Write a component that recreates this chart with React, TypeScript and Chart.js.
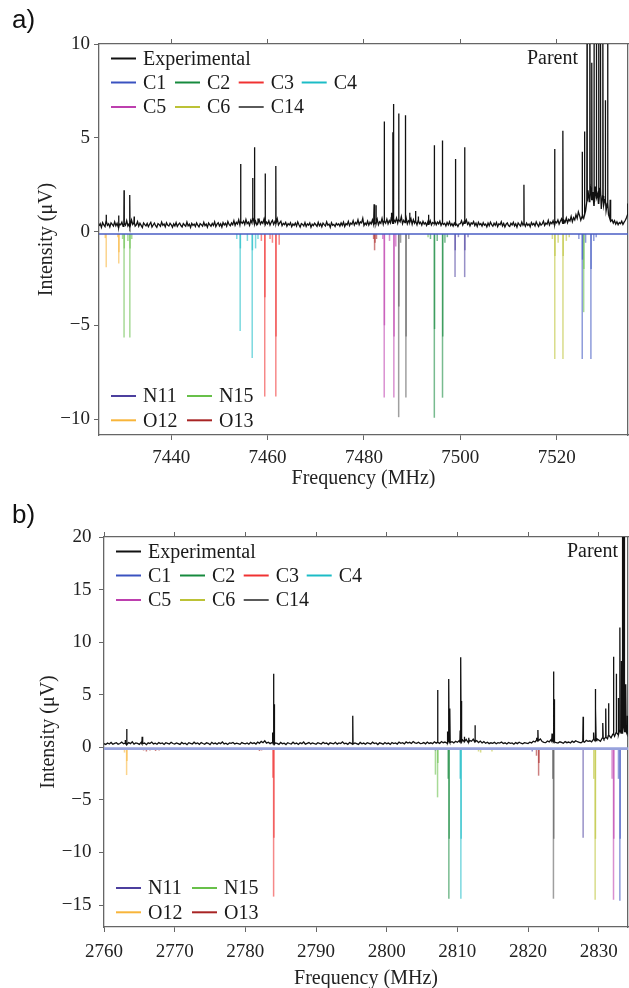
import React, { useEffect, useRef } from "react";
import { Chart, registerables } from "chart.js";

Chart.register(...registerables);

const SERIF = "'Liberation Serif', 'Times New Roman', serif";
const SANS = "'Liberation Sans', Arial, sans-serif";

// ---------------- Panel a data ----------------
const xRangeA = [7425, 7534.8];
const yRangeA = [-10.85, 10];
const xStepA = 20;
const noiseStartA = 7425;
const noiseStepA = 0.25;
const expNoiseA = [
  0.30, 0.42, 0.22, 0.48, 0.35, 0.26, 0.55, 0.33, 0.41, 0.24,
  0.46, 0.38, 0.29, 0.52, 0.31, 0.44, 0.23, 0.40, 0.36, 0.50,
  0.27, 0.45, 0.34, 0.58, 0.30, 0.41, 0.25, 0.62, 0.38, 0.47,
  0.29, 0.36, 0.53, 0.28, 0.44, 0.33, 0.21, 0.46, 0.37, 0.30,
  0.43, 0.26, 0.39, 0.49, 0.24, 0.35, 0.45, 0.31, 0.22, 0.42,
  0.37, 0.28, 0.50, 0.33, 0.40, 0.25, 0.47, 0.34, 0.29, 0.44,
  0.36, 0.23, 0.41, 0.30, 0.48, 0.27, 0.38, 0.45, 0.32, 0.24,
  0.43, 0.35, 0.28, 0.51, 0.30, 0.39, 0.22, 0.44, 0.33, 0.40,
  0.27, 0.46, 0.34, 0.25, 0.42, 0.37, 0.29, 0.49, 0.31, 0.40,
  0.23, 0.45, 0.36, 0.28, 0.43, 0.32, 0.52, 0.26, 0.39, 0.47,
  0.30, 0.41, 0.24, 0.48, 0.35, 0.44, 0.28, 0.53, 0.38, 0.31,
  0.46, 0.36, 0.58, 0.33, 0.49, 0.40, 0.62, 0.35, 0.51, 0.44,
  0.56, 0.38, 0.64, 0.42, 0.50, 0.33, 0.60, 0.45, 0.70, 0.40,
  0.55, 0.36, 0.48, 0.62, 0.39, 0.52, 0.44, 0.66, 0.37, 0.50,
  0.41, 0.57, 0.34, 0.49, 0.60, 0.38, 0.53, 0.43, 0.68, 0.35,
  0.46, 0.55, 0.31, 0.44, 0.37, 0.49, 0.28, 0.42, 0.35, 0.47,
  0.26, 0.40, 0.33, 0.45, 0.29, 0.51, 0.36, 0.24, 0.43, 0.38,
  0.30, 0.48, 0.27, 0.41, 0.34, 0.46, 0.23, 0.39, 0.32, 0.44,
  0.36, 0.28, 0.49, 0.31, 0.42, 0.25, 0.45, 0.37, 0.30, 0.52,
  0.34, 0.40, 0.22, 0.47, 0.33, 0.38, 0.27, 0.44, 0.35, 0.41,
  0.29, 0.46, 0.33, 0.50, 0.27, 0.42, 0.36, 0.54, 0.31, 0.45,
  0.39, 0.58, 0.34, 0.48, 0.41, 0.63, 0.37, 0.52, 0.46, 0.70,
  0.32, 0.45, 0.36, 0.55, 0.34, 0.50, 0.40, 0.62, 0.38, 0.48,
  0.42, 0.65, 0.36, 0.52, 0.44, 0.70, 0.39, 0.56, 0.45, 0.66,
  0.41, 0.58, 0.46, 0.75, 0.43, 0.62, 0.50, 0.72, 0.45, 0.64,
  0.52, 0.80, 0.42, 0.60, 0.48, 0.74, 0.41, 0.57, 0.50, 0.68,
  0.39, 0.63, 0.45, 0.55, 0.36, 0.60, 0.42, 0.50, 0.34, 0.54,
  0.40, 0.47, 0.32, 0.51, 0.38, 0.58, 0.35, 0.48, 0.43, 0.52,
  0.36, 0.50, 0.41, 0.55, 0.33, 0.47, 0.38, 0.44, 0.30, 0.48,
  0.35, 0.52, 0.32, 0.42, 0.29, 0.45, 0.34, 0.39, 0.27, 0.41,
  0.42, 0.58, 0.35, 0.50, 0.44, 0.62, 0.38, 0.48, 0.30, 0.46,
  0.40, 0.53, 0.32, 0.45, 0.27, 0.49, 0.36, 0.42, 0.29, 0.47,
  0.34, 0.40, 0.25, 0.45, 0.31, 0.50, 0.37, 0.28, 0.44, 0.33,
  0.48, 0.26, 0.41, 0.36, 0.52, 0.30, 0.43, 0.24, 0.39, 0.46,
  0.32, 0.27, 0.44, 0.35, 0.49, 0.30, 0.41, 0.23, 0.46, 0.37,
  0.29, 0.51, 0.34, 0.42, 0.28, 0.45, 0.33, 0.40, 0.25, 0.48,
  0.36, 0.43, 0.30, 0.52, 0.38, 0.27, 0.47, 0.34, 0.41, 0.55,
  0.32, 0.45, 0.39, 0.60, 0.35, 0.50, 0.42, 0.58, 0.37, 0.53,
  0.46, 0.62, 0.40, 0.55, 0.68, 0.44, 0.60, 0.50, 0.72, 0.47,
  0.65, 0.56, 0.80, 0.52, 0.74, 0.62, 0.90, 0.70, 1.05, 0.85,
  0.60, 0.80, 0.70, 0.90, 1.10, 1.60, 2.20, 1.60, 2.50, 1.70,
  2.10, 1.40, 2.40, 1.80, 2.00, 1.50, 2.30, 1.20, 1.90, 1.40,
  1.70, 1.10, 1.50, 0.90, 0.70, 0.55, 0.62, 0.45, 0.58, 0.40,
  0.52, 0.36, 0.48, 0.42, 0.55, 0.38, 0.50, 0.60, 0.75, 0.90,
  1.20,
];
const expPeaksA: [number, number][] = [
  [7426.5, 0.9], [7429.1, 0.85], [7430.2, 2.2], [7431.4, 1.95], [7432.3, 0.8],
  [7454.4, 3.6], [7456.9, 2.85], [7457.3, 4.5], [7458.0, 0.7], [7459.5, 3.1], [7461.7, 3.5],
  [7482.1, 1.45], [7482.5, 1.4], [7484.2, 5.87], [7485.7, 1.0], [7486.0, 5.3], [7486.15, 6.8],
  [7487.2, 6.3], [7488.6, 6.2], [7489.5, 1.0], [7490.7, 1.1], [7491.3, 0.8],
  [7493.4, 0.9], [7494.6, 4.6], [7496.3, 4.85], [7499.0, 3.87], [7500.9, 4.5],
  [7513.2, 2.5], [7519.6, 4.4], [7521.3, 5.37], [7525.3, 4.25], [7525.8, 5.34],
  [7526.3, 11], [7526.9, 14], [7527.3, 9], [7527.75, 13], [7528.25, 15], [7528.7, 12],
  [7529.1, 14], [7529.6, 11], [7530.1, 7], [7530.6, 12], [7531.1, 1.7], [7534.75, 1.5],
];
const simBaselineA = -0.13;
const c1A: [number, number][] = [[7524.6, -0.4], [7525.3, -6.8], [7525.35, -1.5], [7526.0, -0.6], [7527.1, -6.8], [7527.15, -2.0], [7527.7, -0.5], [7528.2, -0.3]];
const c2A: [number, number][] = [[7493.8, -0.4], [7494.6, -9.93], [7494.65, -5.2], [7495.2, -0.5], [7496.3, -8.86], [7496.35, -5.6], [7496.8, -0.6], [7497.3, -0.3]];
const c3A: [number, number][] = [[7458.7, -0.5], [7459.4, -8.8], [7459.45, -3.5], [7460.5, -0.4], [7461.0, -0.6], [7461.7, -8.8], [7461.75, -5.6], [7462.4, -0.7]];
const c4A: [number, number][] = [[7453.6, -0.4], [7454.3, -5.3], [7454.35, -0.9], [7455.8, -0.5], [7456.8, -6.75], [7456.85, -1.0], [7457.5, -0.9], [7458.0, -0.4]];
const c5A: [number, number][] = [[7483.9, -0.4], [7484.2, -8.85], [7484.25, -5.0], [7485.3, -0.5], [7486.2, -8.85], [7486.25, -5.6], [7486.6, -0.8]];
const c6A: [number, number][] = [[7519.1, -0.4], [7519.6, -6.8], [7519.65, -1.3], [7520.3, -0.6], [7521.3, -6.8], [7521.35, -1.3], [7522.0, -0.5], [7522.6, -0.3]];
const c14A: [number, number][] = [[7487.2, -9.9], [7487.25, -4.0], [7487.6, -0.6], [7488.7, -8.85], [7488.75, -5.6], [7489.3, -0.4]];
const n11A: [number, number][] = [[7498.9, -2.43], [7498.95, -1.0], [7499.6, -0.3], [7500.9, -2.43], [7500.95, -1.0], [7501.6, -0.3]];
const n15A: [number, number][] = [[7429.9, -0.4], [7430.2, -5.65], [7430.25, -0.9], [7431.0, -0.5], [7431.4, -5.65], [7431.45, -0.9], [7431.8, -0.4], [7493.3, -0.3], [7525.6, -4.3], [7525.65, -2.0]];
const o12A: [number, number][] = [[7426.3, -0.35], [7426.5, -1.9], [7428.9, -0.3], [7429.1, -1.7], [7429.15, -1.1]];
const o13A: [number, number][] = [[7482.0, -0.4], [7482.2, -1.0], [7482.3, -0.6], [7482.6, -0.4]];

// ---------------- Panel b data ----------------
const xRangeB = [2760, 2834.15];
const yRangeB = [-17.09, 20];
const xStepB = 10;
const noiseStartB = 2760;
const noiseStepB = 0.25;
const expNoiseB = [
  0.34, 0.27, 0.41, 0.31, 0.46, 0.29, 0.38, 0.44, 0.30, 0.36,
  0.49, 0.33, 0.40, 0.26, 0.45, 0.35, 0.52, 0.31, 0.42, 0.37,
  0.28, 0.47, 0.34, 0.40, 0.25, 0.43, 0.36, 0.50, 0.32, 0.39,
  0.29, 0.45, 0.35, 0.41, 0.27, 0.44, 0.38, 0.31, 0.48, 0.36,
  0.30, 0.42, 0.35, 0.27, 0.46, 0.33, 0.39, 0.25, 0.44, 0.37,
  0.31, 0.48, 0.34, 0.41, 0.28, 0.45, 0.36, 0.30, 0.43, 0.38,
  0.26, 0.47, 0.33, 0.40, 0.29, 0.44, 0.35, 0.51, 0.32, 0.39,
  0.27, 0.42, 0.37, 0.46, 0.31, 0.40, 0.34, 0.28, 0.45, 0.38,
  0.33, 0.41, 0.29, 0.47, 0.36, 0.43, 0.31, 0.50, 0.38, 0.56,
  0.44, 0.62, 0.40, 0.48, 0.35, 0.45, 0.30, 0.42, 0.37, 0.28,
  0.46, 0.34, 0.39, 0.26, 0.44, 0.36, 0.31, 0.48, 0.33, 0.40,
  0.27, 0.43, 0.35, 0.50, 0.30, 0.38, 0.45, 0.32, 0.41, 0.36,
  0.29, 0.44, 0.37, 0.31, 0.48, 0.35, 0.40, 0.26, 0.43, 0.38,
  0.33, 0.47, 0.30, 0.41, 0.36, 0.52, 0.34, 0.39, 0.28, 0.45,
  0.37, 0.31, 0.42, 0.35, 0.27, 0.46, 0.33, 0.40, 0.29, 0.44,
  0.38, 0.32, 0.49, 0.35, 0.41, 0.26, 0.43, 0.37, 0.30, 0.45,
  0.34, 0.40, 0.28, 0.46, 0.36, 0.42, 0.31, 0.49, 0.38, 0.44,
  0.33, 0.51, 0.40, 0.47, 0.36, 0.55, 0.42, 0.38, 0.48, 0.35,
  0.38, 0.45, 0.33, 0.50, 0.37, 0.43, 0.35, 0.52, 0.40, 0.47,
  0.37, 0.55, 0.44, 0.50, 0.41, 0.60, 0.46, 0.53, 0.42, 0.58,
  0.48, 0.62, 0.51, 0.70, 0.54, 0.75, 0.49, 0.65, 0.57, 0.78,
  0.52, 0.64, 0.45, 0.59, 0.41, 0.54, 0.38, 0.48, 0.35, 0.43,
  0.38, 0.47, 0.34, 0.44, 0.40, 0.50, 0.36, 0.43, 0.31, 0.46,
  0.37, 0.41, 0.29, 0.45, 0.35, 0.48, 0.39, 0.33, 0.44, 0.40,
  0.36, 0.48, 0.42, 0.58, 0.50, 0.66, 0.62, 0.80, 0.55, 0.47,
  0.44, 0.60, 0.52, 0.72, 0.58, 0.50, 0.45, 0.40, 0.52, 0.46,
  0.38, 0.54, 0.44, 0.50, 0.41, 0.58, 0.47, 0.62, 0.53, 0.48,
  0.43, 0.55, 0.49, 0.66, 0.57, 0.62, 0.52, 0.75, 0.64, 0.82,
  0.70, 0.58, 0.88, 0.76, 0.95, 0.82, 1.10, 0.90, 1.25, 1.05,
  1.40, 1.20, 1.60, 1.35, 1.80, 1.50, 1.30,
];
const expPeaksB: [number, number][] = [
  [2763.0, 0.7], [2763.2, 1.74], [2765.4, 1.0], [2783.85, 1.4], [2784.0, 7.0], [2784.1, 4.1], [2795.2, 3.0],
  [2807.2, 5.45], [2808.6, 1.5], [2808.8, 6.5], [2808.95, 3.7], [2810.4, 1.6], [2810.5, 8.57], [2810.6, 4.4],
  [2811.0, 1.0], [2811.6, 0.9], [2812.5, 2.1], [2821.2, 0.9], [2821.4, 1.65], [2823.4, 1.3], [2823.6, 7.2],
  [2823.7, 4.57], [2827.8, 2.9], [2829.3, 1.4], [2829.5, 5.55], [2829.6, 3.7], [2830.6, 2.3], [2831.0, 3.7],
  [2831.4, 4.2], [2832.1, 8.6], [2832.5, 7.0], [2832.8, 4.7], [2833.0, 11.4], [2833.2, 8.2],
  [2833.35, 25], [2833.45, 25], [2833.55, 25], [2833.65, 25], [2833.85, 6.0], [2834.05, 3.0],
];
const simBaselineB = -0.13;
const c1B: [number, number][] = [[2832.8, -3.0], [2833.0, -14.6], [2833.05, -8.7]];
const c2B: [number, number][] = [[2808.7, -3.0], [2808.8, -14.4], [2808.85, -8.7]];
const c3B: [number, number][] = [[2783.9, -2.9], [2784.0, -14.2], [2784.05, -8.6]];
const c4B: [number, number][] = [[2810.4, -3.0], [2810.5, -14.4], [2810.55, -8.7]];
const c5B: [number, number][] = [[2831.9, -3.0], [2832.1, -14.5], [2832.15, -8.7]];
const c6B: [number, number][] = [[2813.0, -0.4], [2813.3, -0.5], [2814.9, -0.4], [2829.3, -3.0], [2829.5, -14.5], [2829.55, -8.7]];
const c14B: [number, number][] = [[2823.5, -3.0], [2823.6, -14.4], [2823.65, -8.7]];
const n11B: [number, number][] = [[2806.9, -0.3], [2820.6, -0.4], [2827.8, -8.6]];
const n15B: [number, number][] = [[2806.9, -2.6], [2807.2, -4.76], [2807.25, -1.5]];
const o12B: [number, number][] = [[2762.9, -0.5], [2763.2, -2.64], [2763.25, -1.3]];
const o13B: [number, number][] = [[2765.6, -0.3], [2766.0, -0.4], [2766.5, -0.3], [2767.3, -0.35], [2767.8, -0.3], [2782.0, -0.35], [2782.3, -0.3], [2821.2, -0.8], [2821.5, -2.7], [2821.55, -1.5]];

// ---------------- legend / styling ----------------
const speciesNames = ["C1", "C2", "C3", "C4", "C5", "C6", "C14", "N11", "N15", "O12", "O13"];
const speciesColors: Record<string, string> = {
  Experimental: "#111111",
  C1: "#3a52c0",
  C2: "#178a3e",
  C3: "#f03232",
  C4: "#1cbcc6",
  C5: "#bd3fae",
  C6: "#bcc236",
  C14: "#5a5a5a",
  N11: "#4c3f9e",
  N15: "#68c04a",
  O12: "#f8b53a",
  O13: "#a82424",
};
const legendTopRows = [["Experimental"], ["C1", "C2", "C3", "C4"], ["C5", "C6", "C14"]];
const legendBottomRows = [["N11", "N15"], ["O12", "O13"]];

const simsA = [c1A, c2A, c3A, c4A, c5A, c6A, c14A, n11A, n15A, o12A, o13A];
const simsB = [c1B, c2B, c3B, c4B, c5B, c6B, c14B, n11B, n15B, o12B, o13B];

function buildTrace(start: number, step: number, noise: number[], peaks: [number, number][]) {
  const pts = noise.map((y, i) => ({ x: start + i * step, y }));
  peaks.forEach(([f, h]) => {
    const idx = Math.min(noise.length - 1, Math.max(0, Math.round((f - start) / step)));
    const b = noise[idx];
    pts.push({ x: f - 0.04, y: b }, { x: f, y: h }, { x: f + 0.04, y: b });
  });
  pts.sort((a, b) => a.x - b.x);
  return pts;
}

const minus = (v: any) => String(v).replace("-", "\u2212");

type Panel = {
  xRange: number[];
  yRange: number[];
  xStep: number;
  noiseStart: number;
  noiseStep: number;
  noise: number[];
  peaks: [number, number][];
  sims: [number, number][][];
  baseline: number;
  baselineColor: string;
  baselineWidth: number;
  L: {
    padTop: number;
    yW: number;
    xH: number;
    yTickPad: number;
    xTickPad: number;
    xTitlePad: number;
    yTitlePad: number;
    parentRight: number;
  };
};

const overlayPlugin = {
  id: "overlay",
  afterDraw(chart: any, _args: any, opts: any) {
    const { ctx, chartArea: ca } = chart;
    ctx.save();
    ctx.font = `20px ${SERIF}`;
    ctx.textBaseline = "middle";
    const drawEntry = (x: number, y: number, name: string) => {
      ctx.strokeStyle = speciesColors[name];
      ctx.lineWidth = 2;
      ctx.beginPath();
      ctx.moveTo(x, y);
      ctx.lineTo(x + 25, y);
      ctx.stroke();
      ctx.fillStyle = "#1a1a1a";
      ctx.textAlign = "left";
      ctx.fillText(name, x + 32, y + 1);
    };
    const topCols = [12, 76, 139.7, 202.7];
    const topRows = [14.5, 38.5, 63];
    legendTopRows.forEach((row, r) =>
      row.forEach((name, c) => drawEntry(ca.left + topCols[c], ca.top + topRows[r], name))
    );
    const botCols = [12, 88];
    const botRows = [-39, -14.7];
    legendBottomRows.forEach((row, r) =>
      row.forEach((name, c) => drawEntry(ca.left + botCols[c], ca.bottom + botRows[r], name))
    );
    ctx.fillStyle = "#1a1a1a";
    ctx.textAlign = "right";
    ctx.fillText("Parent", ca.right - opts.parentRight, ca.top + 15);
    ctx.restore();
  },
};

function PanelChart({ p, top }: { p: Panel; top: number }) {
  const ref = useRef<HTMLCanvasElement>(null);
  useEffect(() => {
    if (!ref.current) return;
    const axisColor = "#666666";
    const tickFont = { family: SERIF, size: 19 };
    const datasets: any[] = [
      {
        type: "line",
        label: "Experimental",
        data: buildTrace(p.noiseStart, p.noiseStep, p.noise, p.peaks),
        borderColor: "#111111",
        borderWidth: 1.3,
        pointRadius: 0,
        tension: 0,
        clip: 0,
        xAxisID: "x",
        yAxisID: "y",
      },
      {
        type: "line",
        label: "baseline",
        data: [
          { x: p.xRange[0], y: p.baseline },
          { x: p.xRange[1], y: p.baseline },
        ],
        borderColor: p.baselineColor,
        borderWidth: p.baselineWidth,
        pointRadius: 0,
        xAxisID: "x",
        yAxisID: "y",
      },
    ];
    p.sims.forEach((arr, i) => {
      const name = speciesNames[i];
      datasets.push({
        type: "bar",
        label: name,
        data: arr.map(([f, h]) => ({ x: f, y: h })),
        base: p.baseline,
        backgroundColor: speciesColors[name] + "94",
        borderWidth: 0,
        barThickness: 1.5,
        inflateAmount: 0,
        grouped: false,
        xAxisID: "x",
        yAxisID: "y",
      });
    });
    const chart = new Chart(ref.current, {
      type: "line",
      data: { datasets },
      plugins: [overlayPlugin],
      options: {
        animation: false,
        responsive: false,
        events: [],
        layout: { padding: { top: p.L.padTop, right: 1, left: 0, bottom: 0 } },
        plugins: {
          legend: { display: false },
          tooltip: { enabled: false },
          overlay: { parentRight: p.L.parentRight },
        } as any,
        scales: {
          x: {
            type: "linear",
            axis: "x",
            position: "bottom",
            min: p.xRange[0],
            max: p.xRange[1],
            offset: false,
            ticks: {
              stepSize: p.xStep,
              includeBounds: false,
              maxRotation: 0,
              autoSkip: false,
              padding: p.L.xTickPad,
              color: "#222",
              font: tickFont,
              callback: (v: any) => String(v),
            },
            grid: { drawOnChartArea: false, drawTicks: true, tickLength: 5, color: axisColor, offset: false },
            border: { display: true, color: axisColor, width: 1.3 },
            title: {
              display: true,
              text: "Frequency (MHz)",
              color: "#222",
              font: { family: SERIF, size: 20 },
              padding: { top: 0, bottom: p.L.xTitlePad },
            },
            afterFit: (s: any) => {
              s.height = p.L.xH;
            },
          },
          x2: {
            type: "linear",
            axis: "x",
            position: "top",
            min: p.xRange[0],
            max: p.xRange[1],
            offset: false,
            ticks: { stepSize: p.xStep, includeBounds: false, callback: () => "", font: { size: 1 } },
            grid: { drawOnChartArea: false, drawTicks: true, tickLength: 5, color: axisColor, offset: false },
            border: { display: true, color: axisColor, width: 1.3 },
            afterFit: (s: any) => {
              s.height = 0;
            },
          },
          y: {
            type: "linear",
            axis: "y",
            position: "left",
            min: p.yRange[0],
            max: p.yRange[1],
            ticks: {
              stepSize: 5,
              includeBounds: false,
              padding: p.L.yTickPad,
              color: "#222",
              font: tickFont,
              callback: (v: any) => minus(v),
            },
            grid: { drawOnChartArea: false, drawTicks: true, tickLength: 5, color: axisColor },
            border: { display: true, color: axisColor, width: 1.3 },
            title: {
              display: true,
              text: "Intensity (\u03bcV)",
              color: "#222",
              font: { family: SERIF, size: 20 },
              padding: { top: p.L.yTitlePad, bottom: 0 },
            },
            afterFit: (s: any) => {
              s.width = p.L.yW;
            },
          },
          y2: {
            type: "linear",
            axis: "y",
            position: "right",
            min: p.yRange[0],
            max: p.yRange[1],
            ticks: { display: false },
            grid: { display: false },
            border: { display: true, color: axisColor, width: 1.3 },
            afterFit: (s: any) => {
              s.width = 0;
            },
          },
        } as any,
      },
    });
    return () => chart.destroy();
  }, [p]);
  return (
    <canvas
      ref={ref}
      width={629}
      height={494}
      style={{ position: "absolute", left: 0, top, width: 629, height: 494, display: "block" }}
    />
  );
}

const panelA: Panel = {
  xRange: xRangeA,
  yRange: yRangeA,
  xStep: xStepA,
  noiseStart: noiseStartA,
  noiseStep: noiseStepA,
  noise: expNoiseA,
  peaks: expPeaksA,
  sims: simsA,
  baseline: simBaselineA,
  baselineColor: "#4a5ec4",
  baselineWidth: 1.4,
  L: { padTop: 44, yW: 99, xH: 59, yTickPad: 4, xTickPad: 7, xTitlePad: 3, yTitlePad: 35, parentRight: 50 },
};

const panelB: Panel = {
  xRange: xRangeB,
  yRange: yRangeB,
  xStep: xStepB,
  noiseStart: noiseStartB,
  noiseStep: noiseStepB,
  noise: expNoiseB,
  peaks: expPeaksB,
  sims: simsB,
  baseline: simBaselineB,
  baselineColor: "#97a2dc",
  baselineWidth: 2.6,
  L: { padTop: 43, yW: 104, xH: 61, yTickPad: 7.5, xTickPad: 9, xTitlePad: -3, yTitlePad: 37, parentRight: 10 },
};

export default function App() {
  return (
    <div style={{ position: "absolute", left: 0, top: 0, width: 629, height: 988, background: "#fff", overflow: "hidden" }}>
      <PanelChart p={panelA} top={0} />
      <PanelChart p={panelB} top={494} />
      <div style={{ position: "absolute", left: 12, top: 6, font: `26px/26px ${SANS}`, color: "#111" }}>a)</div>
      <div style={{ position: "absolute", left: 12, top: 501, font: `26px/26px ${SANS}`, color: "#111" }}>b)</div>
    </div>
  );
}
